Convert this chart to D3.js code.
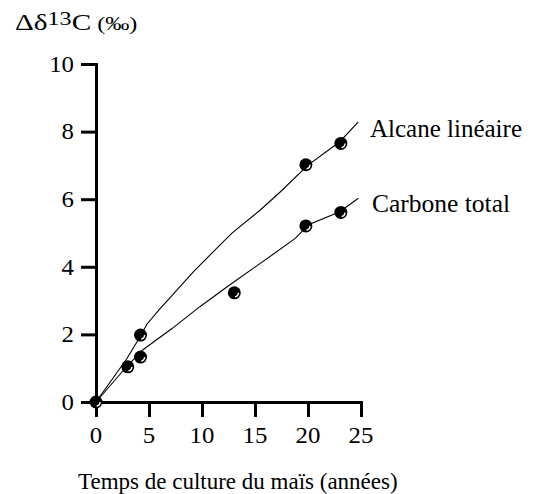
<!DOCTYPE html>
<html>
<head>
<meta charset="utf-8">
<script src="https://cdn.jsdelivr.net/npm/d3@7"></script>
<style>
  html, body { margin: 0; padding: 0; background: #fff; }
  svg { display: block; }
  svg text { font-family: "Liberation Serif", "Times New Roman", serif; fill: #000; }
</style>
</head>
<body>
<svg id="chart" width="535" height="494"></svg>
<script>
// ---- data ----
const xTicks = [0, 5, 10, 15, 20, 25];
const yTicks = [0, 2, 4, 6, 8, 10];

const alcanePoints = [[0, 0], [4.2, 1.98], [19.8, 7.02], [23.1, 7.65]];
const carbonePoints = [[3.0, 1.04], [4.2, 1.33], [13.05, 3.23], [19.8, 5.21], [23.1, 5.61]];

const alcaneCurve = [[0, 0], [2.9, 1.28], [4.1, 1.9], [4.8, 2.3], [6.0, 2.75], [6.8, 3.02], [9.2, 3.86],
  [12.8, 4.99], [15.5, 5.68], [17.4, 6.22], [20.0, 7.01], [23.0, 7.70], [24.75, 8.29]];
const carboneCurve = [[0, 0], [2.9, 1.05], [4.4, 1.54], [7.2, 2.18], [9.8, 2.82], [12.6, 3.46],
  [15.5, 4.10], [18.8, 4.84], [20.0, 5.24], [23.0, 5.63], [24.75, 6.03]];

const seriesLabels = ["Alcane linéaire", "Carbone total"];
const xTitle = "Temps de culture du maïs (années)";

// ---- drawing ----
const svg = d3.select("#chart");
const x = d3.scaleLinear().domain([0, 25]).range([96, 361]);
const y = d3.scaleLinear().domain([0, 10]).range([402, 64]);

// curves
const line = d3.line().x(d => x(d[0])).y(d => y(d[1]));
[alcaneCurve, carboneCurve].forEach(c => {
  svg.append("path").attr("d", line(c)).attr("fill", "none")
    .attr("stroke", "#000").attr("stroke-width", 1.1);
});

// axes (lines and ticks by d3-axis, labels drawn as serif text)
const yAxis = d3.axisLeft(y).tickValues(yTicks).tickSize(15).tickSizeOuter(0).tickFormat(() => "");
const xAxis = d3.axisBottom(x).tickValues(xTicks).tickSize(15).tickSizeOuter(0).tickFormat(() => "");

const gy = svg.append("g").attr("transform", `translate(${x(0)},0)`).call(yAxis);
const gx = svg.append("g").attr("transform", `translate(0,${y(0)})`).call(xAxis);
[gx, gy].forEach(g => {
  g.select(".domain").attr("stroke", "#000").attr("stroke-width", 3).attr("stroke-linecap", "square");
  g.selectAll(".tick line").attr("stroke", "#000").attr("stroke-width", 3);
});

svg.append("g").selectAll("text").data(yTicks).join("text")
  .attr("x", x(0) - 22).attr("y", d => y(d)).attr("dy", "0.34em")
  .attr("text-anchor", "end").style("font-size", "23px")
  .attr("transform", d => `translate(${x(0) - 22},0) scale(1.08,1) translate(${-(x(0) - 22)},0)`)
  .text(d => d);

svg.append("g").selectAll("text").data(xTicks).join("text")
  .attr("x", d => x(d)).attr("y", 443)
  .attr("text-anchor", "middle").style("font-size", "23px")
  .attr("transform", d => `translate(${x(d)},0) scale(1.08,1) translate(${-x(d)},0)`)
  .text(d => d);

// points
const allPoints = alcanePoints.concat(carbonePoints);
const pts = svg.append("g");
const hl = d3.arc().innerRadius(3.4).outerRadius(4.8).startAngle(Math.PI * 0.5).endAngle(Math.PI * 0.95);
allPoints.forEach(p => {
  pts.append("circle").attr("cx", x(p[0])).attr("cy", y(p[1])).attr("r", 6.5).attr("fill", "#000");
  pts.append("path").attr("d", hl()).attr("fill", "#fff")
    .attr("transform", `translate(${x(p[0])},${y(p[1])})`);
});

// series labels
svg.append("text").attr("x", 370).attr("y", 137).style("font-size", "25px").text(seriesLabels[0]);
svg.append("text").attr("x", 372).attr("y", 212).style("font-size", "25.5px").text(seriesLabels[1]);

// x title
svg.append("text").attr("x", 78).attr("y", 489).style("font-size", "23px").text(xTitle);

// y title (horizontally stretched as in the reference)
const yt = svg.append("text").attr("x", 0).attr("y", 0).style("font-size", "23px")
  .attr("transform", "translate(15,30) scale(1.27,1)");
yt.append("tspan").text("Δδ");
yt.append("tspan").style("font-size", "19px").attr("dy", -5).text("13");
yt.append("tspan").attr("dy", 5).text("C");
yt.append("tspan").style("font-size", "19px").text(" (‰)");
</script>
</body>
</html>
